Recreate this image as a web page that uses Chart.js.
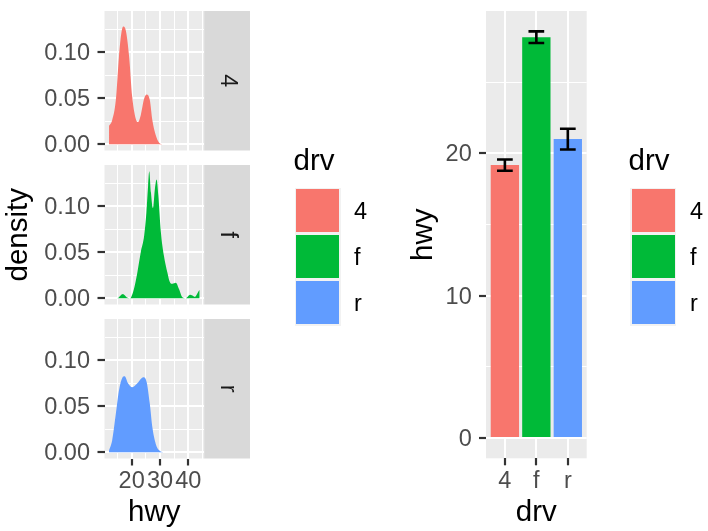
<!DOCTYPE html>
<html>
<head>
<meta charset="utf-8">
<script src="https://cdn.jsdelivr.net/npm/chart.js@4.4.1/dist/chart.umd.min.js"></script>
<style>
  html, body { margin: 0; padding: 0; background: #ffffff; }
  #wrap { position: relative; width: 708px; height: 531px; overflow: hidden;
          font-family: "Liberation Sans", Arial, Helvetica, sans-serif; }
  #wrap canvas { position: absolute; left: 0; top: 0; }
  .lg-title { position: absolute; font-size: 29.5px; line-height: 29.5px; color: #000; white-space: nowrap; }
  .lg-keys  { position: absolute; background: #F2F2F2; }
  .lg-sw    { position: absolute; }
  .lg-label { position: absolute; font-size: 23.5px; line-height: 46px; height: 46px; color: #000; white-space: nowrap; }
</style>
</head>
<body>
<div id="wrap">
  <canvas id="dens0" width="708" height="531"></canvas>
  <canvas id="dens1" width="708" height="531"></canvas>
  <canvas id="dens2" width="708" height="531"></canvas>
  <canvas id="bars" width="708" height="531"></canvas>
</div>
<script>
// ---- data -------------------------------------------------------------
const categories = ['4', 'f', 'r'];
const fillColors = ['#F8766D', '#00BA38', '#619CFF'];

// kernel density of highway mpg, one curve per drive type
const hwy4  = [12.0, 13.1, 14.4, 15.5, 16.3, 17.0, 17.9, 19.1, 20.2, 21.4, 22.2, 23.2, 24.4, 25.3, 26.4, 27.3, 28.5, 29.7, 30.8, 44.0];
const dens4 = [0.020, 0.026, 0.048, 0.095, 0.120, 0.128, 0.124, 0.095, 0.051, 0.028, 0.024, 0.0315, 0.0497, 0.054, 0.048, 0.026, 0.0098, 0.0015, 0, 0];

const hwyF  = [12.0, 14.9, 16.1, 16.9, 18.2, 19.4, 20.8, 22.0, 23.2, 24.4, 25.2, 25.8, 26.2, 26.8, 27.5, 28.2, 28.8, 29.4, 30.3, 31.4, 32.6, 33.5, 34.4, 35.6, 36.7, 37.9, 39.1, 40.6, 41.4, 42.3, 43.8, 44.0];
const densF = [0, 0, 0.003, 0.0044, 0.001, 0, 0.010, 0.028, 0.050, 0.068, 0.0935, 0.1225, 0.138, 0.115, 0.098, 0.119, 0.129, 0.112, 0.072, 0.046, 0.028, 0.0174, 0.0156, 0.0167, 0.010, 0.001, 0, 0.0037, 0.003, 0.0015, 0.0084, 0.009];

const hwyR  = [12.0, 13.1, 14.4, 15.5, 16.7, 17.5, 18.7, 20.2, 22.0, 24.1, 25.3, 26.4, 27.3, 28.5, 29.7, 31.2, 44.0];
const densR = [0.002, 0.0127, 0.0417, 0.067, 0.081, 0.0826, 0.075, 0.0707, 0.075, 0.0815, 0.076, 0.0526, 0.027, 0.009, 0.002, 0, 0];

// mean highway mpg per drive type with standard error
const hwyMean = [19.17, 28.16, 21.00];
const hwySe   = [0.40, 0.41, 0.73];

// axis breaks
const densBreaks      = [0, 0.05, 0.10];
const densBreakLabels = ['0.00', '0.05', '0.10'];
const densMinor       = [0.025, 0.075, 0.125];
const hwyBreaks       = [20, 30, 40];
const hwyBreakLabels  = ['20', '30', '40'];
const hwyMinor        = [15, 25, 35, 45];
const barBreaks       = [0, 10, 20];
const barBreakLabels  = ['0', '10', '20'];
const barMinor        = [5, 15, 25];

// ---- layout -----------------------------------------------------------
const W = 708, H = 531;
const FONT = '"Liberation Sans", Arial, Helvetica, sans-serif';
const PANEL_L = 104.5, PANEL_R = 204.2, PANEL_H = 139.5;
const PANEL_TOPS = [11, 165, 319];
const STRIP_W = 45.8;
const BAR_L = 486, BAR_R = 586.7, BAR_T = 11, BAR_B = 458.3;
const TICK_FONT = { family: FONT, size: 23.5 };
const TITLE_FONT = { family: FONT, size: 29.5 };
const GREY_PANEL = '#EBEBEB', GREY_STRIP = '#D9D9D9';
const TICK_TEXT = '#4D4D4D', TICK_MARK = '#333333';

Chart.defaults.font.family = FONT;
Chart.defaults.animation = false;

function expand(lo, hi) { const p = (hi - lo) * 0.05; return [lo - p, hi + p]; }

const hwyAll = hwy4.concat(hwyF, hwyR);
const [hwyMin, hwyMax] = expand(Math.min(...hwyAll), Math.max(...hwyAll));
const [densMin, densMax] = expand(0, Math.max(...dens4, ...densF, ...densR));
const [barMin, barMax] = expand(0, Math.max(...hwyMean.map((m, i) => m + hwySe[i])));

// grey panel background
const panelBg = {
  id: 'panelBg',
  beforeDraw(chart) {
    const a = chart.chartArea, ctx = chart.ctx;
    ctx.save();
    ctx.fillStyle = GREY_PANEL;
    ctx.fillRect(a.left, a.top, a.right - a.left, a.bottom - a.top);
    ctx.restore();
  }
};

// facet strip on the right side of a panel
function stripPlugin(label) {
  return {
    id: 'strip',
    afterDraw(chart) {
      const a = chart.chartArea, ctx = chart.ctx;
      ctx.save();
      ctx.fillStyle = GREY_STRIP;
      ctx.fillRect(a.right, a.top, STRIP_W, a.bottom - a.top);
      ctx.translate(a.right + STRIP_W / 2, (a.top + a.bottom) / 2);
      ctx.rotate(Math.PI / 2);
      ctx.fillStyle = '#1A1A1A';
      ctx.font = '23.5px ' + FONT;
      ctx.textAlign = 'center';
      ctx.textBaseline = 'middle';
      ctx.fillText(label, 0, 0);
      ctx.restore();
    }
  };
}

// axis with major + minor white grid lines, labels/ticks only on majors
function axis(opts) {
  const { majors, labels, minors, min, max, showTicks, size, title, titlePad, horizontal, labelPad } = opts;
  const values = majors.concat(minors).sort((a, b) => a - b);
  const isMajor = v => majors.some(m => Math.abs(m - v) < 1e-9);
  return {
    type: 'linear',
    min, max,
    offset: false,
    afterBuildTicks: s => { s.ticks = values.map(v => ({ value: v })); },
    afterFit: s => {
      if (horizontal) { s.height = size; s.paddingLeft = 0; s.paddingRight = 0; }
      else { s.width = size; s.paddingTop = 0; s.paddingBottom = 0; }
    },
    border: { display: false },
    grid: {
      offset: false,
      color: '#FFFFFF',
      lineWidth: c => (c.tick && isMajor(c.tick.value)) ? 2 : 1,
      drawTicks: showTicks,
      tickLength: 7,
      tickWidth: 2.2,
      tickColor: c => (c.tick && isMajor(c.tick.value)) ? TICK_MARK : 'rgba(0,0,0,0)'
    },
    ticks: {
      display: showTicks,
      autoSkip: false,
      maxRotation: 0,
      minRotation: 0,
      padding: labelPad,
      labelOffset: horizontal ? 0 : 1.5,
      color: TICK_TEXT,
      font: TICK_FONT,
      callback: v => { const k = majors.findIndex(m => Math.abs(m - v) < 1e-9); return k >= 0 ? labels[k] : ''; }
    },
    title: title ? { display: true, text: title, color: '#000000', font: TITLE_FONT, padding: titlePad } : { display: false }
  };
}

// ---- density facets ---------------------------------------------------
const densSeries = [[hwy4, dens4], [hwyF, densF], [hwyR, densR]];

densSeries.forEach(([xs, ys], i) => {
  const top = PANEL_TOPS[i], bottom = top + PANEL_H;
  const last = i === densSeries.length - 1;
  new Chart(document.getElementById('dens' + i), {
    type: 'line',
    data: {
      datasets: [{
        data: xs.map((x, k) => ({ x, y: ys[k] })),
        fill: 'origin',
        backgroundColor: fillColors[i],
        borderWidth: 0,
        pointRadius: 0,
        cubicInterpolationMode: 'monotone'
      }]
    },
    options: {
      responsive: false,
      devicePixelRatio: 1,
      animation: false,
      events: [],
      layout: { padding: { left: 0, top: top, right: W - PANEL_R, bottom: last ? 0 : H - bottom } },
      plugins: { legend: { display: false }, tooltip: { enabled: false } },
      scales: {
        x: axis({ majors: hwyBreaks, labels: hwyBreakLabels, minors: hwyMinor, min: hwyMin, max: hwyMax,
                  showTicks: last, size: last ? H - bottom : 0, horizontal: true, labelPad: 2.1,
                  title: last ? 'hwy' : null, titlePad: { top: 0, bottom: 0 } }),
        y: axis({ majors: densBreaks, labels: densBreakLabels, minors: densMinor, min: densMin, max: densMax,
                  showTicks: true, size: PANEL_L, horizontal: false, labelPad: 7.5,
                  title: i === 1 ? 'density' : null, titlePad: { top: 1.4, bottom: 0 } })
      }
    },
    plugins: [panelBg, stripPlugin(categories[i])]
  });
});

// ---- bar chart with error bars ----------------------------------------
const ERR_WIDTH = 0.5;
const errorBars = {
  id: 'errorBars',
  afterDatasetsDraw(chart) {
    const { ctx, scales: { x, y } } = chart;
    ctx.save();
    ctx.strokeStyle = '#000000';
    ctx.lineWidth = 2.6;
    ctx.lineCap = 'butt';
    hwyMean.forEach((m, i) => {
      const cx = x.getPixelForValue(i + 1);
      const hw = x.getPixelForValue(i + 1 + ERR_WIDTH / 2) - cx;
      const yt = y.getPixelForValue(m + hwySe[i]);
      const yb = y.getPixelForValue(m - hwySe[i]);
      ctx.beginPath();
      ctx.moveTo(cx - hw, yt); ctx.lineTo(cx + hw, yt);
      ctx.moveTo(cx, yt); ctx.lineTo(cx, yb);
      ctx.moveTo(cx - hw, yb); ctx.lineTo(cx + hw, yb);
      ctx.stroke();
    });
    ctx.restore();
  }
};

const xBar = axis({ majors: categories.map((c, i) => i + 1), labels: categories, minors: [], min: 0.4, max: categories.length + 0.6,
                    showTicks: true, size: H - BAR_B, horizontal: true, labelPad: 2.1,
                    title: 'drv', titlePad: { top: 0, bottom: 0 } });
const yBar = axis({ majors: barBreaks, labels: barBreakLabels, minors: barMinor, min: barMin, max: barMax,
                    showTicks: true, size: BAR_L - 400, horizontal: false, labelPad: 7.3,
                    title: 'hwy', titlePad: { top: 5.8, bottom: 0 } });

new Chart(document.getElementById('bars'), {
  type: 'bar',
  data: {
    datasets: [{
      data: categories.map((c, i) => ({ x: i + 1, y: hwyMean[i] })),
      backgroundColor: fillColors,
      borderWidth: 0,
      barPercentage: 0.9,
      categoryPercentage: 1.0
    }]
  },
  options: {
    responsive: false,
    devicePixelRatio: 1,
    animation: false,
    events: [],
    layout: { padding: { left: 400, top: BAR_T, right: W - BAR_R, bottom: 0 } },
    plugins: { legend: { display: false }, tooltip: { enabled: false } },
    scales: { x: xBar, y: yBar }
  },
  plugins: [panelBg, errorBars]
});

// ---- legends ----------------------------------------------------------
function legend(titleLeft, keyLeft, labelLeft) {
  const wrap = document.getElementById('wrap');
  const KEY = 46, KEY_TOP = 187.5;
  const t = document.createElement('div');
  t.className = 'lg-title';
  t.textContent = 'drv';
  t.style.left = titleLeft + 'px';
  t.style.top = '145px';
  wrap.appendChild(t);

  const keys = document.createElement('div');
  keys.className = 'lg-keys';
  Object.assign(keys.style, { left: keyLeft + 'px', top: KEY_TOP + 'px', width: KEY + 'px', height: KEY * categories.length + 'px' });
  wrap.appendChild(keys);

  categories.forEach((c, i) => {
    const sw = document.createElement('div');
    sw.className = 'lg-sw';
    Object.assign(sw.style, { left: (keyLeft + 1.5) + 'px', top: (KEY_TOP + i * KEY + 1.5) + 'px',
                              width: (KEY - 3) + 'px', height: (KEY - 3) + 'px', background: fillColors[i] });
    wrap.appendChild(sw);
    const lb = document.createElement('div');
    lb.className = 'lg-label';
    lb.textContent = c;
    Object.assign(lb.style, { left: labelLeft + 'px', top: (KEY_TOP + i * KEY) + 'px' });
    wrap.appendChild(lb);
  });
}
legend(293.5, 294.5, 354);
legend(628.5, 630.3, 690);
</script>
</body>
</html>
